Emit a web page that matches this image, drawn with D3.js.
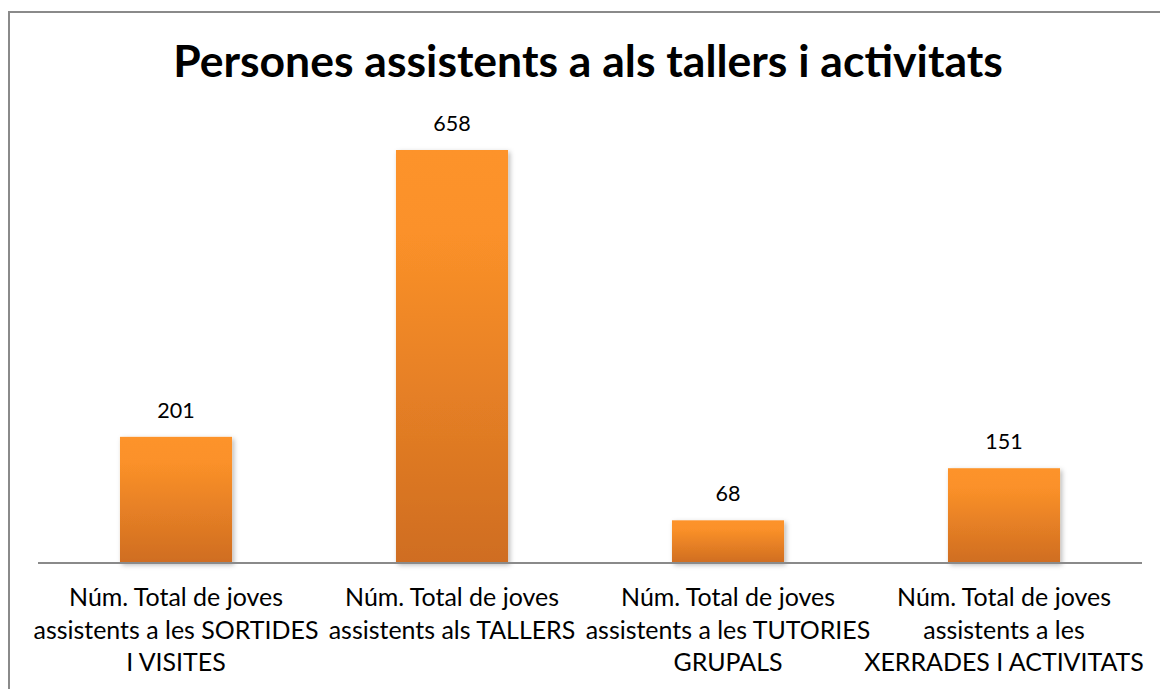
<!DOCTYPE html>
<html>
<head>
<meta charset="utf-8">
<script src="https://cdn.jsdelivr.net/npm/d3@7/dist/d3.min.js"></script>
<style>
  html, body { margin: 0; padding: 0; background: #fff; }
  svg { display: block; }
  text { font-family: "Lato", "Open Sans", "Liberation Sans", sans-serif; fill: #000; }
</style>
</head>
<body>
<svg id="chart" width="1160" height="689"></svg>
<script>
// ---- data ----
const title = "Persones assistents a als tallers i activitats";
const categories = [
  "Núm. Total de joves assistents a les SORTIDES I VISITES",
  "Núm. Total de joves assistents als TALLERS",
  "Núm. Total de joves assistents a les TUTORIES GRUPALS",
  "Núm. Total de joves assistents a les XERRADES I ACTIVITATS"
];
const categoryLines = [
  ["Núm. Total de joves", "assistents a les SORTIDES", "I VISITES"],
  ["Núm. Total de joves", "assistents als TALLERS"],
  ["Núm. Total de joves", "assistents a les TUTORIES", "GRUPALS"],
  ["Núm. Total de joves", "assistents a les", "XERRADES I ACTIVITATS"]
];
const values = [201, 658, 68, 151];

// ---- layout ----
const svg = d3.select("#chart");
const plot = { left: 38, right: 1142, top: 150, bottom: 563 };

// border
svg.append("rect")
  .attr("x", 9).attr("y", 12)
  .attr("width", 1170).attr("height", 700)
  .attr("fill", "none").attr("stroke", "#8a8a8a").attr("stroke-width", 2);

const defs = svg.append("defs");
const grad = defs.append("linearGradient").attr("id", "barGrad")
  .attr("x1", 0).attr("y1", 0).attr("x2", 0).attr("y2", 1);
grad.append("stop").attr("offset", "0%").attr("stop-color", "#fd9329");
grad.append("stop").attr("offset", "20%").attr("stop-color", "#fb9129");
grad.append("stop").attr("offset", "100%").attr("stop-color", "#cf6d21");
const f = defs.append("filter").attr("id", "shadow")
  .attr("x", "-10%").attr("y", "-10%").attr("width", "130%").attr("height", "130%");
f.append("feDropShadow").attr("dx", 2).attr("dy", 2).attr("stdDeviation", 2.5)
  .attr("flood-color", "#000").attr("flood-opacity", 0.28);

const x = d3.scaleBand()
  .domain(categories)
  .range([plot.left, plot.right])
  .paddingInner(0.594).paddingOuter(0.297);

const y = d3.scaleLinear()
  .domain([0, 658])
  .range([plot.bottom, plot.top]);

// bars
svg.append("g").selectAll("rect")
  .data(values)
  .join("rect")
  .attr("x", (d, i) => x(categories[i]))
  .attr("y", d => y(d))
  .attr("width", x.bandwidth())
  .attr("height", d => y(0) - y(d))
  .attr("fill", "url(#barGrad)")
  .attr("filter", "url(#shadow)");

// baseline axis
const axis = svg.append("g")
  .attr("transform", `translate(0,${plot.bottom})`)
  .call(d3.axisBottom(x).tickSize(0).tickFormat(""));
axis.select(".domain").attr("stroke", "#8a8a8a").attr("stroke-width", 2)
  .attr("d", `M${plot.left},0H${plot.right}`);

// fit helper
function fitSize(text, weight, targetW, base) {
  const t = svg.append("text").attr("font-size", base).attr("font-weight", weight).text(text);
  const w = t.node().getComputedTextLength();
  t.remove();
  return base * targetW / w;
}

// title
const titleSize = fitSize(title, "bold", 830, 44);
svg.append("text")
  .attr("x", 588).attr("y", 77)
  .attr("text-anchor", "middle")
  .attr("font-weight", "bold")
  .attr("font-size", titleSize)
  .text(title);

// category labels
const labelSize = Math.min(26, fitSize("Núm. Total de joves", "normal", 214, 22));
axis.selectAll(".tick").each(function(d, i) {
  const g = d3.select(this);
  g.select("text").remove();
  const t = g.append("text")
    .attr("text-anchor", "middle")
    .attr("font-size", labelSize)
    .attr("fill", "#000");
  categoryLines[i].forEach((line, j) => {
    t.append("tspan").attr("x", 0).attr("y", 43 + j * 32.5).text(line);
  });
});

// value labels
const valSize = Math.min(26, fitSize("201", "normal", 37.5, 24));
svg.append("g").selectAll("text")
  .data(values)
  .join("text")
  .attr("x", (d, i) => x(categories[i]) + x.bandwidth() / 2)
  .attr("y", d => y(d) - 19)
  .attr("text-anchor", "middle")
  .attr("font-size", valSize)
  .text(d => d);
</script>
</body>
</html>
